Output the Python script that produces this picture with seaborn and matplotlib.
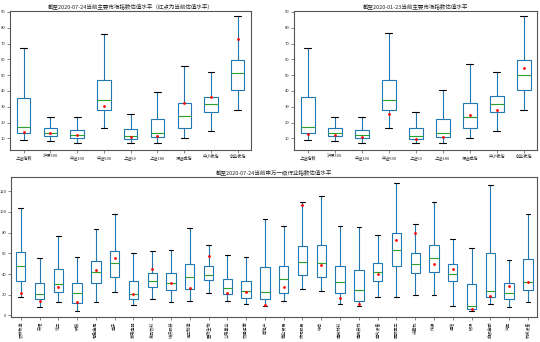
import matplotlib
matplotlib.use("Agg")
import matplotlib.pyplot as plt
import pandas as pd
import seaborn as sns

# ---- market indices: PE distribution summary (low whisker, Q1, median, Q3, high whisker) ----
index_names = ["上证指数", "沪深300", "中证100", "中证500", "上证50",
               "上证180", "深证成指", "中小板指", "创业板指"]

# as of 2020-07-24
idx_jul_lo = [8.7, 8.1, 6.8, 16.5, 7.3, 7.3, 10.0, 14.8, 27.7]
idx_jul_q1 = [13.2, 11.3, 10.2, 27.7, 9.8, 10.6, 16.5, 26.6, 40.9]
idx_jul_med = [17.4, 13.6, 11.9, 34.0, 11.3, 13.2, 23.9, 31.9, 51.1]
idx_jul_q3 = [35.3, 16.3, 15.5, 47.1, 16.1, 22.4, 32.5, 36.5, 59.7]
idx_jul_hi = [67.0, 23.5, 23.3, 76.1, 25.6, 39.3, 55.9, 51.7, 87.5]
idx_jul_now = [14.2, 13.6, 11.9, 30.4, 10.8, 11.5, 32.1, 36.1, 72.7]

# as of 2020-01-23
idx_jan_lo = [8.7, 8.1, 6.8, 16.3, 7.3, 7.3, 10.0, 14.6, 27.7]
idx_jan_q1 = [13.6, 11.3, 10.0, 27.7, 9.8, 10.8, 16.3, 26.4, 40.5]
idx_jan_med = [17.4, 13.6, 12.3, 34.0, 11.3, 13.6, 23.3, 31.9, 50.4]
idx_jan_q3 = [35.9, 16.3, 15.5, 47.1, 16.3, 22.6, 32.7, 36.7, 59.3]
idx_jan_hi = [67.0, 23.7, 23.7, 76.5, 26.6, 40.5, 56.9, 52.3, 87.5]
idx_jan_now = [12.7, 12.1, 10.8, 25.4, 9.8, 10.6, 24.9, 28.1, 54.4]

# ---- Shenwan level-1 industries, as of 2020-07-24 ----
ind_names = ["农林牧渔", "采掘", "化工", "钢铁", "有色金属", "电子", "家用电器",
             "食品饮料", "纺织服装", "轻工制造", "医药生物", "公用事业", "交通运输",
             "房地产", "商业贸易", "休闲服务", "综合", "建筑材料", "建筑装饰",
             "电气设备", "国防军工", "计算机", "传媒", "通信", "银行", "非银金融",
             "汽车", "机械设备"]
ind_lo = [18.1, 8.1, 13.2, 4.8, 13.2, 22.9, 10.3, 16.1, 13.2, 14.2, 21.3, 14.2,
          10.6, 9.0, 14.2, 25.5, 23.2, 10.6, 8.7, 17.7, 18.1, 19.7, 20.0, 9.4,
          4.8, 11.3, 8.1, 12.6]
ind_q1 = [33.2, 15.5, 22.9, 12.3, 31.6, 37.4, 15.5, 27.4, 24.2, 25.8, 34.2, 21.0,
          17.1, 15.5, 21.6, 38.7, 37.4, 21.3, 13.9, 33.2, 48.1, 41.3, 42.3, 33.5,
          6.5, 17.7, 15.8, 24.2]
ind_med = [48.1, 21.0, 30.6, 21.9, 42.3, 50.6, 21.0, 33.2, 31.6, 37.4, 39.4, 26.8,
           23.5, 22.9, 34.8, 51.9, 51.0, 32.6, 24.2, 42.3, 63.2, 50.0, 55.8, 39.7,
           9.0, 23.5, 21.3, 32.6]
ind_q3 = [61.3, 31.6, 44.8, 31.6, 52.6, 62.3, 33.2, 41.0, 41.0, 49.4, 47.7, 35.5,
          33.2, 46.8, 48.1, 67.4, 68.4, 47.7, 44.2, 50.3, 79.7, 60.3, 68.4, 50.0,
          30.6, 60.3, 31.6, 54.2]
ind_hi = [103.9, 55.8, 77.1, 56.8, 83.9, 98.4, 60.0, 62.3, 63.2, 84.5, 68.1, 58.1,
          56.8, 92.9, 86.8, 110.0, 115.5, 86.8, 85.2, 77.4, 127.4, 88.7, 109.4, 74.2,
          65.5, 125.5, 53.5, 98.4]
ind_now = [21.6, 13.9, 27.7, 12.6, 43.9, 55.8, 21.0, 44.5, 31.6, 26.8, 57.1, 21.9,
           22.6, 9.7, 27.1, 106.8, 48.4, 16.8, 10.6, 40.0, 72.6, 79.7, 49.7, 45.2,
           6.1, 19.0, 28.1, 31.9]

BOX_BLUE = "#1f77b4"
MED_GREEN = "#2ca02c"
SPINE = "#555555"

sns.set_style("white")
plt.rcParams["font.family"] = ["Noto Sans CJK SC", "DejaVu Sans"]
plt.rcParams["axes.unicode_minus"] = False


def long_frame(names, lo, q1, med, q3, hi):
    rows = []
    for name, *vals in zip(names, lo, q1, med, q3, hi):
        rows.extend((name, v) for v in vals)
    return pd.DataFrame(rows, columns=["name", "pe"])


def draw_panel(ax, names, lo, q1, med, q3, hi, now, title, rotate=False):
    df = long_frame(names, lo, q1, med, q3, hi)
    sns.boxplot(data=df, x="name", y="pe", ax=ax, order=names,
                whis=(0, 100), width=0.5, color="white", linecolor=BOX_BLUE,
                saturation=1, linewidth=0.8, showfliers=False,
                medianprops=dict(color=MED_GREEN),
                capprops=dict(color="black"))
    sns.stripplot(x=names, y=now, ax=ax, order=names, jitter=False,
                  color="red", size=2.0, linewidth=0, zorder=5)
    ax.set_xlabel("")
    ax.set_ylabel("")
    ax.set_title(title, fontsize=4, pad=2)
    ax.tick_params(axis="both", labelsize=3, length=2, width=0.5, pad=1.5,
                   color=SPINE, bottom=True, left=True)
    if rotate:
        ax.tick_params(axis="x", labelrotation=90)
    for sp in ax.spines.values():
        sp.set_color(SPINE)
        sp.set_linewidth(0.8)


fig = plt.figure(figsize=(5.4, 3.42), dpi=100)
ax_a = fig.add_axes([0.019, 0.561, 0.446, 0.406])
ax_b = fig.add_axes([0.545, 0.561, 0.450, 0.406])
ax_c = fig.add_axes([0.021, 0.073, 0.974, 0.409])

draw_panel(ax_a, index_names, idx_jul_lo, idx_jul_q1, idx_jul_med, idx_jul_q3,
           idx_jul_hi, idx_jul_now,
           "截至2020-07-24当前主要市场指数估值水平（红点为当前估值水平）")
draw_panel(ax_b, index_names, idx_jan_lo, idx_jan_q1, idx_jan_med, idx_jan_q3,
           idx_jan_hi, idx_jan_now,
           "截至2020-01-23当前主要市场指数估值水平")
draw_panel(ax_c, ind_names, ind_lo, ind_q1, ind_med, ind_q3, ind_hi, ind_now,
           "截至2020-07-24当前申万一级行业指数估值水平", rotate=True)

for ax in (ax_a, ax_b):
    ax.set_ylim(2.6, 90.4)
    ax.set_yticks(range(10, 91, 10))
ax_c.set_ylim(-1.5, 133.5)
ax_c.set_yticks(range(0, 121, 20))

fig.savefig("out.png", dpi=100)
